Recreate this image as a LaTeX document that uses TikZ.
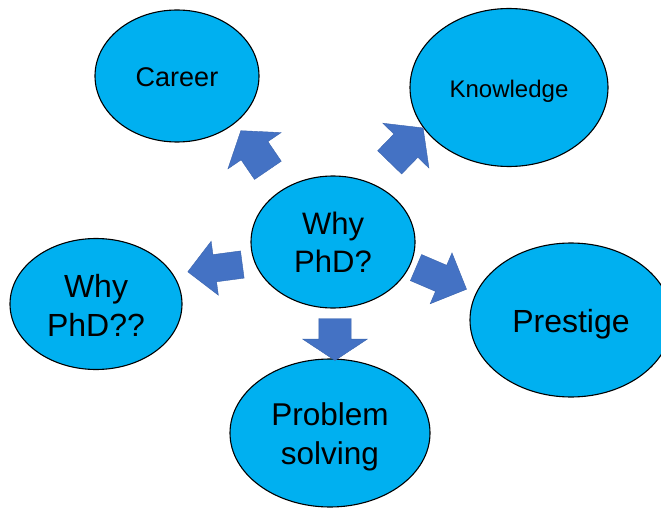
\documentclass[tikz,border=0pt]{standalone}
\usepackage{fontspec}
\setmainfont{Liberation Sans}
\usetikzlibrary{shapes.geometric,shapes.arrows}
\definecolor{bubblefill}{HTML}{00B0F0}
\definecolor{arrowblue}{HTML}{4472C4}
\definecolor{arrowedge}{HTML}{3B64AD}
\newcommand\lowertext[2]{\raisebox{-#1}[\height][\depth]{#2}}
\begin{document}
\begin{tikzpicture}[x=1pt,y=-1pt,
  bubble/.style={ellipse,draw=black,line width=1.1pt,fill=bubblefill,inner sep=0pt,align=center},
  blockarrow/.style={single arrow,fill=arrowblue,draw=arrowedge,line width=0.4pt,inner sep=0pt,anchor=tail}]
\useasboundingbox (0,0) rectangle (661,508);
\clip (0,0) rectangle (661,508);
% bubbles
\node[bubble,minimum width=164pt,minimum height=132pt,font=\fontsize{27}{32}\selectfont] (career) at (177,76) {\lowertext{1pt}{Career}};
\node[bubble,minimum width=198pt,minimum height=158pt,font=\fontsize{24}{29}\selectfont] (knowledge) at (509,87.5) {\lowertext{4pt}{Knowledge}};
\node[bubble,minimum width=164pt,minimum height=132pt,font=\fontsize{31}{38}\selectfont] (why) at (333,242) {Why\\PhD?};
\node[bubble,minimum width=172pt,minimum height=131pt,font=\fontsize{32}{39}\selectfont] (whyq) at (96,304) {\lowertext{1pt}{Why}\\\lowertext{1pt}{PhD??}};
\node[bubble,minimum width=202pt,minimum height=154pt,font=\fontsize{32}{38}\selectfont] (prestige) at (571,320) {\lowertext{4pt}{Prestige}};
\node[bubble,minimum width=200pt,minimum height=148pt,font=\fontsize{31.5}{39}\selectfont] (problem) at (330,433) {\lowertext{4pt}{Problem}\\\lowertext{4pt}{solving}};
% block arrows
\node[blockarrow,rotate=124.3,minimum height=48pt,inner ysep=16pt,single arrow head extend=16pt,single arrow tip angle=106] (a1) at (268,170.5) {};
\node[blockarrow,rotate=45.8,minimum height=48pt,inner ysep=16.5pt,single arrow head extend=15.5pt,single arrow tip angle=105] (a2) at (389.5,162.5) {};
\node[blockarrow,rotate=187.6,minimum height=55pt,inner ysep=13.5pt,single arrow head extend=13.5pt,single arrow tip angle=90] (a3) at (242.5,264.5) {};
\node[blockarrow,rotate=-23.2,minimum height=55pt,inner ysep=14pt,single arrow head extend=13.5pt,single arrow tip angle=90] (a4) at (415.8,267.5) {};
\node[blockarrow,rotate=-90,minimum height=42pt,inner ysep=16pt,single arrow head extend=16pt,single arrow tip angle=113] (a5) at (335,318.3) {};
\end{tikzpicture}
\end{document}
